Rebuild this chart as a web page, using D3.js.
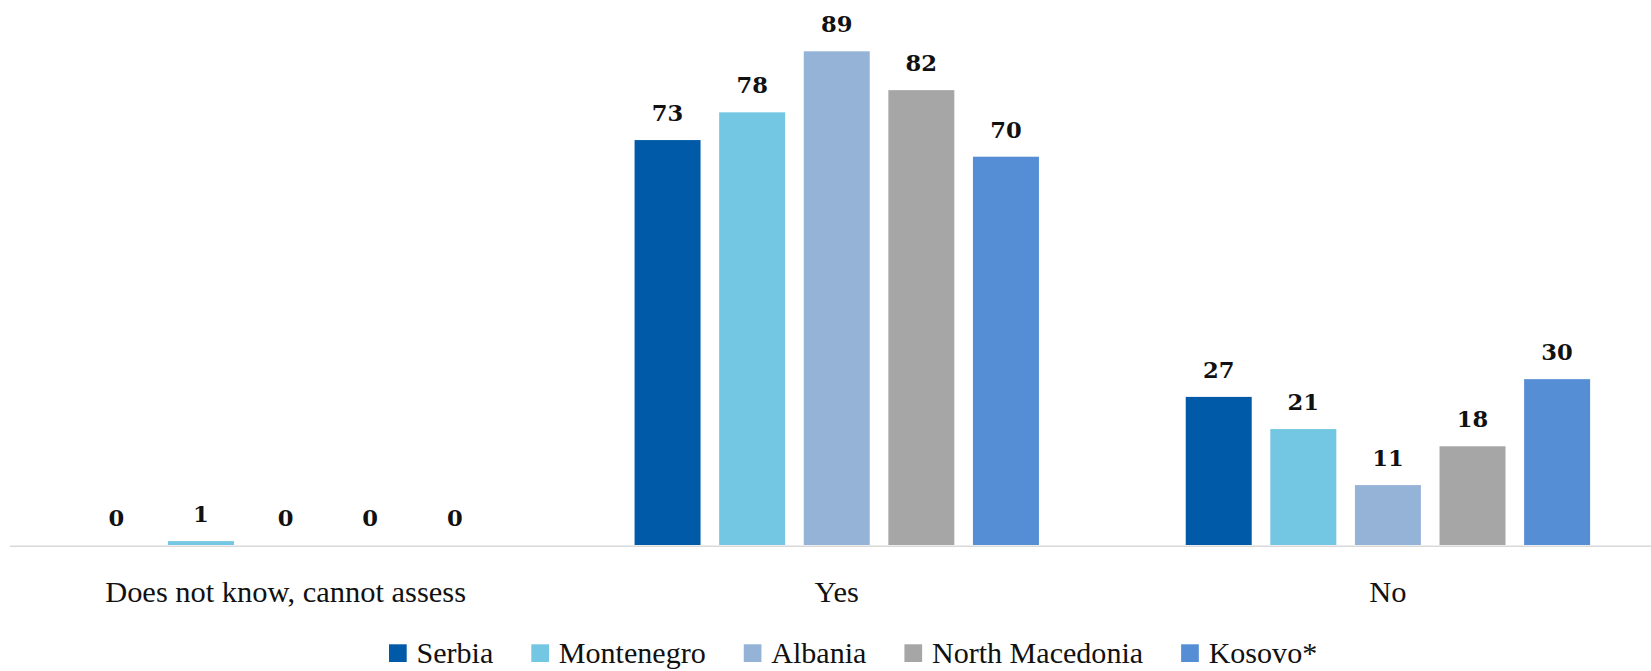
<!DOCTYPE html>
<html>
<head>
<meta charset="utf-8">
<script src="https://cdn.jsdelivr.net/npm/d3@7"></script>
<style>
  html, body { margin: 0; padding: 0; background: #ffffff; }
  svg { display: block; }
</style>
</head>
<body>
<svg id="chart" width="1651" height="671"></svg>
<script>
// ---- data ----
const categories = ["Does not know, cannot assess", "Yes", "No"];
const seriesNames = ["Serbia", "Montenegro", "Albania", "North Macedonia", "Kosovo*"];
const seriesColors = ["#005AA7", "#73C7E3", "#95B3D7", "#A6A6A6", "#558ED5"];
const serbia         = [0,   73, 26.7];
const montenegro     = [0.7, 78, 20.9];
const albania        = [0,   89, 10.8];
const northMacedonia = [0,   82, 17.8];
const kosovo         = [0,   70, 29.9];
const seriesValues = [serbia, montenegro, albania, northMacedonia, kosovo];

// ---- layout ----
const W = 1651, H = 671;
const baseY = 545;
const SERIF = "'Liberation Serif', 'Times New Roman', Times, 'DejaVu Serif', serif";
const svg = d3.select("#chart");

const x0 = d3.scaleBand().domain(categories).range([10, 1663.5]).padding(0);
const x1 = d3.scaleBand().domain(seriesNames)
  .range([73.4, x0.bandwidth() - 73.4]).paddingInner(0.22).paddingOuter(0);
const y = d3.scaleLinear().domain([0, 100]).range([baseY, baseY - 554.7]);

const fmt = d3.format(".0f");

// helper: pick a font size so a sample text reaches a target width
function fitSize(sample, family, weight, startSize, targetWidth) {
  const t = svg.append("text").attr("font-family", family).attr("font-weight", weight)
    .attr("font-size", startSize).text(sample);
  const w = t.node().getComputedTextLength();
  t.remove();
  return w > 0 ? startSize * targetWidth / w : startSize;
}

// axis baseline
svg.append("line")
  .attr("x1", 10).attr("x2", W)
  .attr("y1", 546.3).attr("y2", 546.3)
  .attr("stroke", "#D9D9D9").attr("stroke-width", 1.6);

const valSize = fitSize("82", "Georgia, 'DejaVu Serif', serif", "bold", 23, 31.5);

const groups = svg.selectAll("g.cat").data(categories).enter().append("g")
  .attr("class", "cat")
  .attr("transform", d => `translate(${x0(d)},0)`);

groups.each(function(cat, ci) {
  const g = d3.select(this);
  const rows = seriesNames.map((s, si) => ({ s, si, v: seriesValues[si][ci] }));
  g.selectAll("rect").data(rows).enter().append("rect")
    .attr("x", d => x1(d.s))
    .attr("width", x1.bandwidth())
    .attr("y", d => y(d.v))
    .attr("height", d => baseY - y(d.v))
    .attr("fill", d => seriesColors[d.si]);
  g.selectAll("text.val").data(rows).enter().append("text")
    .attr("class", "val")
    .attr("x", d => x1(d.s) + x1.bandwidth() / 2)
    .attr("y", d => y(d.v) - 19)
    .attr("text-anchor", "middle")
    .attr("font-family", "Georgia, 'DejaVu Serif', serif")
    .attr("font-weight", "bold")
    .attr("font-size", valSize)
    .attr("fill", "#111")
    .text(d => fmt(d.v));
});

// category labels
const catSize = fitSize(categories[0], SERIF, "normal", 28, 361);
svg.selectAll("text.catlab").data(categories).enter().append("text")
  .attr("class", "catlab")
  .attr("x", d => x0(d) + x0.bandwidth() / 2)
  .attr("y", 601.7)
  .attr("text-anchor", "middle")
  .attr("font-family", SERIF)
  .attr("font-size", catSize)
  .attr("fill", "#111")
  .text(d => d);

// legend
const legSize = fitSize("Montenegro", SERIF, "normal", 30, 147);
const legend = svg.append("g").attr("class", "legend");
let lx = 389;
seriesNames.forEach((name, i) => {
  legend.append("rect")
    .attr("x", lx).attr("y", 644.3)
    .attr("width", 17.7).attr("height", 17.7)
    .attr("fill", seriesColors[i]);
  const t = legend.append("text")
    .attr("x", lx + 27.5).attr("y", 663.3)
    .attr("font-family", SERIF)
    .attr("font-size", legSize)
    .attr("fill", "#111")
    .text(name);
  lx = lx + 27.5 + t.node().getComputedTextLength() + 38;
});
</script>
</body>
</html>
